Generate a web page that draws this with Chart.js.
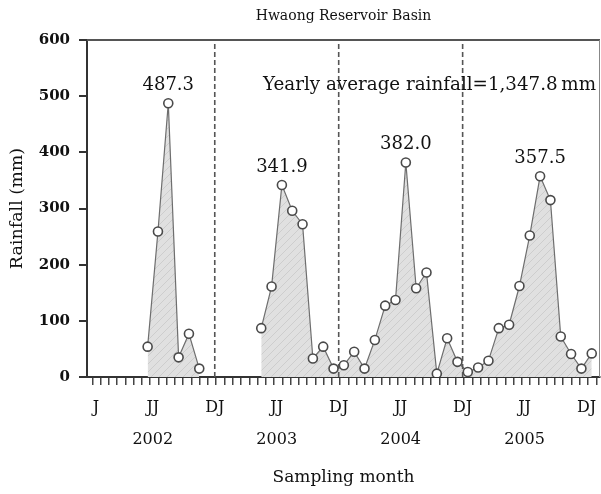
<!DOCTYPE html>
<html>
<head>
<meta charset="utf-8">
<title>Hwaong Reservoir Basin</title>
<script src="https://cdn.jsdelivr.net/npm/chart.js@4/dist/chart.umd.min.js"></script>
<style>
  body { margin: 0; background: #fff; }
  #wrap { width: 601px; height: 494px; }
</style>
</head>
<body>
<div id="wrap"><canvas id="rainChart" width="601" height="494"></canvas></div>
<script>
// Monthly rainfall (mm), index 0 = Jan 2002 ... 48 = Jan 2006, null = no sample
const rainfall = [
    null, null, null, null, null, 54, 259, 487.3, 35, 77, 15, null,
    null, null, null, null, 87, 161, 341.9, 296, 272, 33, 54, 15,
    21, 45, 15, 66, 127, 137, 382.0, 158, 186, 6, 69, 27,
    9, 17, 29, 87, 93, 162, 252, 357.5, 315, 72, 41, 15,
    42
];
const peakMonths = [7, 18, 30, 43]; // yearly maxima that get a value label
const yearBreaks = [11.5, 23.5, 35.5]; // Dec/Jan boundaries (dashed lines)
const monthLabels = ["J", "JJ", "DJ", "JJ", "DJ", "JJ", "DJ", "JJ", "DJ"];
const monthLabelPos = [0, 5.5, 11.5, 17.5, 23.5, 29.5, 35.5, 41.5, 47.5];
const years = ["2002", "2003", "2004", "2005"];
const yTicks = [0, 100, 200, 300, 400, 500, 600];
const averageText = "Yearly average rainfall=1,347.8\u2009mm";

const SERIF = '"DejaVu Serif", "Liberation Serif", serif';
const X_MIN = -0.87;
const X_MAX = 48.8;

// light gray fill with faint diagonal hatching
function hatchPattern() {
    const c = document.createElement("canvas");
    c.width = 8;
    c.height = 8;
    const g = c.getContext("2d");
    g.fillStyle = "#e0e0e0";
    g.fillRect(0, 0, 8, 8);
    g.strokeStyle = "#cdcdcd";
    g.lineWidth = 1;
    g.beginPath();
    g.moveTo(0, 8); g.lineTo(8, 0);
    g.moveTo(-1, 1); g.lineTo(1, -1);
    g.moveTo(7, 9); g.lineTo(9, 7);
    g.stroke();
    return g.createPattern(c, "repeat");
}

// labels on the bottom axis: month marks, years under the JJ marks
const bottomLabels = monthLabelPos.map((p, i) => {
    const y = i % 2 === 1 ? years[(i - 1) / 2] : null;
    return y ? [monthLabels[i], "", y] : monthLabels[i];
});

const breakSets = yearBreaks.map(b => ({
    type: "line",
    data: [{ x: b, y: 0 }, { x: b, y: 600 }],
    borderColor: "#555",
    borderWidth: 1.6,
    borderDash: [5, 3],
    pointRadius: 0,
    fill: false,
    order: 0,
}));

// value labels over the peaks, the average note and the top/right frame
const extras = {
    id: "extras",
    beforeDatasetsDraw(chart) {
        const { ctx, chartArea } = chart;
        ctx.save();
        ctx.strokeStyle = "#555";
        ctx.lineWidth = 2;
        ctx.beginPath();
        ctx.moveTo(chartArea.left, chartArea.top);
        ctx.lineTo(chartArea.right, chartArea.top);
        ctx.stroke();
        ctx.lineWidth = 1;
        ctx.strokeStyle = "#888";
        ctx.beginPath();
        ctx.moveTo(chartArea.right - 0.5, chartArea.top);
        ctx.lineTo(chartArea.right - 0.5, chartArea.bottom);
        ctx.stroke();
        ctx.restore();
    },
    afterDatasetsDraw(chart) {
        const { ctx, chartArea, scales } = chart;
        const meta = chart.getDatasetMeta(0);
        ctx.save();
        ctx.fillStyle = "#111";
        ctx.font = "18px " + SERIF;
        ctx.textAlign = "center";
        ctx.textBaseline = "middle";
        peakMonths.forEach(m => {
            const pt = meta.data[m];
            ctx.fillText(rainfall[m].toFixed(1), pt.x, pt.y - 18);
        });
        ctx.textAlign = "right";
        ctx.font = "18.3px " + SERIF;
        ctx.fillText(averageText, chartArea.right - 4, scales.y.getPixelForValue(520));
        ctx.restore();
    },
};

const ctx = document.getElementById("rainChart").getContext("2d");
const rainChart = new Chart(ctx, {
    type: "line",
    data: {
        datasets: [
            {
                label: "Rainfall",
                data: rainfall.map((v, i) => ({ x: i, y: v })),
                borderColor: "#6e6e6e",
                borderWidth: 1.2,
                backgroundColor: hatchPattern(),
                fill: "origin",
                spanGaps: false,
                tension: 0,
                pointRadius: 4.5,
                pointBackgroundColor: "#fff",
                pointBorderColor: "#4a4a4a",
                pointBorderWidth: 1.6,
                order: 1,
            },
            ...breakSets,
        ],
    },
    options: {
        responsive: false,
        animation: false,
        events: [],
        layout: { autoPadding: false, padding: { left: 0, right: 1, top: 0, bottom: 0 } },
        scales: {
            x: {
                type: "linear",
                position: "bottom",
                min: X_MIN,
                max: X_MAX,
                weight: 0,
                border: { display: true, color: "#333", width: 2 },
                grid: { drawOnChartArea: false, drawTicks: true, tickLength: 8, color: "#444", lineWidth: 1.5 },
                ticks: { display: false },
                afterBuildTicks(scale) {
                    const t = [];
                    for (let v = -0.36; v < X_MAX; v += 0.8) t.push({ value: v });
                    scale.ticks = t;
                },
                afterFit(scale) {
                    scale.height = 8;
                    scale.paddingLeft = 0;
                    scale.paddingRight = 0;
                },
            },
            xm: {
                type: "linear",
                position: "bottom",
                min: X_MIN,
                max: X_MAX,
                weight: 1,
                border: { display: false },
                grid: { display: false, drawTicks: false, tickLength: 0 },
                ticks: {
                    autoSkip: false,
                    maxRotation: 0,
                    padding: 15,
                    color: "#111",
                    font: { family: SERIF, size: 16, lineHeight: 1 },
                    callback: (v, i) => bottomLabels[i],
                },
                afterBuildTicks(scale) {
                    scale.ticks = monthLabelPos.map(p => ({ value: p }));
                },
                title: {
                    display: true,
                    text: "Sampling month",
                    color: "#111",
                    font: { family: SERIF, size: 17, lineHeight: 1.2 },
                    padding: { top: 4, bottom: 5.8 },
                },
                afterFit(scale) {
                    scale.height = 109;
                    scale.paddingLeft = 0;
                    scale.paddingRight = 0;
                },
            },
            y: {
                min: 0,
                max: 600,
                border: { display: true, color: "#333", width: 2 },
                grid: { drawOnChartArea: false, drawTicks: true, tickLength: 8, color: "#333", lineWidth: 2 },
                ticks: {
                    padding: 9,
                    color: "#111",
                    font: { family: SERIF, size: 15, weight: "bold" },
                },
                afterBuildTicks(scale) {
                    scale.ticks = yTicks.map(v => ({ value: v }));
                },
                title: {
                    display: true,
                    text: "Rainfall (mm)",
                    color: "#111",
                    font: { family: SERIF, size: 17.5, lineHeight: 1.2 },
                    padding: { top: 7, bottom: 0 },
                },
                afterFit(scale) {
                    scale.width = 87;
                    scale.paddingTop = 0;
                    scale.paddingBottom = 0;
                },
            },
        },
        plugins: {
            legend: { display: false },
            tooltip: { enabled: false },
            title: {
                display: true,
                fullSize: false,
                text: "Hwaong Reservoir Basin",
                color: "#111",
                font: { family: SERIF, size: 14, weight: "normal", lineHeight: 1.25 },
                padding: { top: 8, bottom: 14.5 },
            },
        },
    },
    plugins: [extras],
});
</script>
</body>
</html>
